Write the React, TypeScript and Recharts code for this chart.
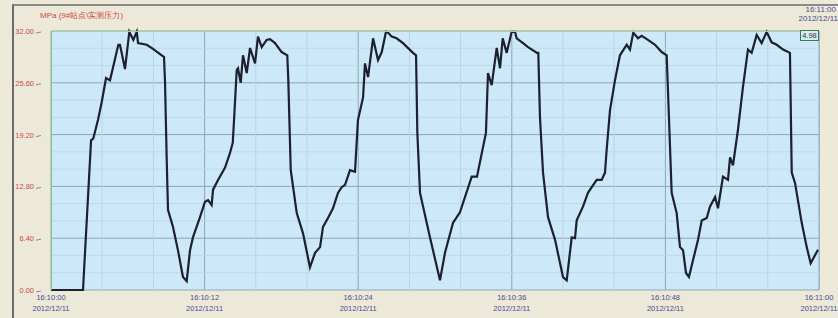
import React from 'react'
import { LineChart, Line, XAxis, YAxis, CartesianGrid, ReferenceLine } from 'recharts'

// time in seconds after 16:10:00, pressure in MPa
const seconds = [
    0, 2.5, 3.13, 3.3, 3.67, 3.96, 4.3, 4.61, 5.26, 5.39, 5.78, 6.12, 6.43, 6.7, 6.8, 7.48, 7.97, 8.65, 8.83,
    8.91, 9.04, 9.14, 9.53, 9.92, 10.31, 10.6, 10.86, 11.09, 11.64, 12.03, 12.27, 12.55, 12.66, 13.05, 13.59,
    13.98, 14.2, 14.3, 14.51, 14.61, 14.82, 15.0, 15.29, 15.55, 15.94, 16.17, 16.46, 16.85, 17.11, 17.5, 18.02,
    18.46, 18.54, 18.73, 19.2, 19.69, 20.23, 20.63, 21.02, 21.25, 21.64, 22.03, 22.42, 22.71, 22.97, 23.36,
    23.75, 23.98, 24.38, 24.53, 24.77, 25.16, 25.55, 25.84, 26.17, 26.33, 26.62, 27.0, 27.5, 28.28, 28.52,
    28.62, 28.83, 29.61, 30.39, 30.78, 31.41, 31.95, 32.87, 33.28, 33.98, 34.14, 34.43, 34.82, 35.08, 35.29,
    35.6, 35.99, 36.25, 36.38, 36.88, 37.27, 37.97, 38.07, 38.2, 38.44, 38.83, 39.38, 40.0, 40.29, 40.68,
    40.94, 41.07, 41.56, 41.95, 42.63, 43.02, 43.28, 43.41, 43.67, 44.06, 44.45, 44.98, 45.23, 45.49, 45.86,
    46.15, 46.64, 47.19, 47.71, 48.1, 48.36, 48.49, 48.88, 49.14, 49.38, 49.61, 49.84, 50.16, 50.55, 50.84,
    51.23, 51.48, 51.88, 52.11, 52.5, 52.89, 53.05, 53.28, 53.67, 54.06, 54.45, 54.74, 55.13, 55.52, 55.91,
    56.3, 56.7, 57.19, 57.73, 57.87, 58.13, 58.65, 59.04, 59.35, 59.92,
]
const pressure = [
    0, 0, 18.5, 18.7, 21.0, 23.2, 26.2, 25.9, 30.3, 30.3, 27.3, 31.9, 30.9, 31.9, 30.5, 30.3, 29.8, 29.0, 28.8,
    25.6, 16.1, 9.9, 7.8, 4.9, 1.6, 1.1, 4.9, 6.5, 9.0, 10.9, 11.1, 10.5, 12.4, 13.6, 15.1,
    16.9, 18.2, 21.0, 27.2, 27.4, 25.6, 29.0, 26.8, 29.9, 28.0, 31.3, 30.0, 30.9, 31.0, 30.5, 29.4,
    29.0, 25.9, 14.8, 9.5, 7.0, 2.8, 4.6, 5.3, 7.8, 8.9, 10.1, 12.0, 12.7, 13.0, 14.8,
    14.6, 21.0, 23.8, 28.0, 26.3, 31.1, 28.4, 29.4, 31.9, 31.8, 31.3, 31.1, 30.5, 29.3, 29.0,
    19.4, 12.0, 6.5, 1.2, 4.6, 8.3, 9.6, 14.0, 14.0, 19.4, 26.8, 25.3, 29.9, 27.4, 31.1,
    29.3, 31.9, 31.9, 31.1, 30.5, 30.0, 29.3, 29.3, 21.4, 14.5, 9.0, 6.2, 1.6, 1.2, 6.5,
    6.4, 8.6, 10.3, 12.0, 13.6, 13.6, 14.5, 17.3, 22.2, 25.9, 29.0, 30.3, 29.7, 31.8, 31.1,
    31.4, 30.9, 30.3, 29.4, 29.0, 17.7, 12.0, 9.5, 5.3, 4.9, 2.1, 1.6, 3.7, 6.2, 8.6,
    8.9, 10.3, 11.5, 10.1, 14.0, 13.6, 16.4, 15.4, 19.8, 25.1, 29.7, 29.3, 31.5, 30.5, 31.9,
    30.6, 30.3, 29.7, 29.3, 14.5, 13.2, 8.3, 5.3, 3.3, 4.98,
]

const yTicks = [0, 6.4, 12.8, 19.2, 25.6, 32]
const xTicks = [0, 12, 24, 36, 48, 60]
const xTickTimes = ['16:10:00', '16:10:12', '16:10:24', '16:10:36', '16:10:48', '16:11:00']
const tickDate = '2012/12/11'
const minorX = [4, 8, 16, 20, 28, 32, 40, 44, 52, 56]
const minorY = [2.13, 4.27, 8.53, 10.67, 14.93, 17.07, 21.33, 23.47, 27.73, 29.87]
const title = 'MPa (9#站点\\实测压力)'

const data = seconds.map((t, i) => ({ t, p: pressure[i] }))

const FONT = '"Liberation Sans", Arial, sans-serif'

function YTick({ x, y, payload }: any) {
    return (
        <g>
            <text x={x - 9} y={y + 3} textAnchor="end" fontSize={7.5} fill="#d04848" fontFamily={FONT}>
                {payload.value.toFixed(2)}
            </text>
            <line x1={x - 7} y1={y + 2} x2={x - 2} y2={y + 1} stroke="#888" strokeWidth={1} />
        </g>
    )
}

function XTick({ y, x, payload }: any) {
    const i = xTicks.indexOf(payload.value)
    const top = 290
    return (
        <g>
            <text x={x} y={top + 10} textAnchor="middle" fontSize={7.5} fill="#4a4a96" fontFamily={FONT}>
                {xTickTimes[i]}
            </text>
            <text x={x} y={top + 21} textAnchor="middle" fontSize={7.5} fill="#4a4a96" fontFamily={FONT}>
                {tickDate}
            </text>
        </g>
    )
}

export default function App() {
    const last = pressure[pressure.length - 1]
    return (
        <div style={{ position: 'fixed', left: 0, top: 0, width: 838, height: 318, background: '#ece9d8', overflow: 'hidden', fontFamily: FONT }}>
            <div style={{ position: 'absolute', left: 12, top: 4, right: 0, bottom: 0, borderLeft: '2px solid #6b6b6b', borderTop: '2px solid #8a8a8a' }} />
            <div style={{ position: 'absolute', left: 40, top: 10, fontSize: 8, color: '#d04848', whiteSpace: 'nowrap' }}>{title}</div>
            <div style={{ position: 'absolute', right: 2, top: 5, fontSize: 8, color: '#4a4a96', textAlign: 'right', lineHeight: '9px' }}>
                <div>{xTickTimes[xTickTimes.length - 1]}</div>
                <div style={{ marginRight: -2 }}>{tickDate}</div>
            </div>
            <LineChart width={838} height={318} data={data} margin={{ top: 31, right: 19, left: 12, bottom: 0 }}
                style={{ position: 'absolute', left: 0, top: 0 }}>
                <CartesianGrid fill="#cde8f8" stroke="#8ea5b5" strokeWidth={1} />
                {minorX.map(v => (
                    <ReferenceLine key={'x' + v} x={v} stroke="#b8d5e6" strokeWidth={1} />
                ))}
                {minorY.map(v => (
                    <ReferenceLine key={'y' + v} y={v} stroke="#bed9ea" strokeWidth={1} />
                ))}
                <XAxis dataKey="t" type="number" domain={[0, 60]} ticks={xTicks} tick={<XTick />}
                    axisLine={false} tickLine={false} height={28} interval={0} />
                <YAxis type="number" domain={[0, 32]} ticks={yTicks} tick={<YTick />}
                    axisLine={false} tickLine={false} width={39} interval={0} />
                <Line type="linear" dataKey="p" stroke="#1c2030" strokeWidth={2.2} dot={false} isAnimationActive={false} />
            </LineChart>
            <div style={{ position: 'absolute', left: 51, top: 31, width: 767, height: 258, borderLeft: '1px solid #8cc48c', borderTop: '1px solid #a8cfa0', borderRight: '1px solid #9fb8c6', pointerEvents: 'none' }} />
            <div style={{ position: 'absolute', left: 800, top: 30, width: 17, height: 9, border: '1px solid #3c7a4a', background: '#d6ecf4', fontSize: 7.5, lineHeight: '9px', textAlign: 'center', color: '#333' }}>
                {last.toFixed(2)}
            </div>
        </div>
    )
}
